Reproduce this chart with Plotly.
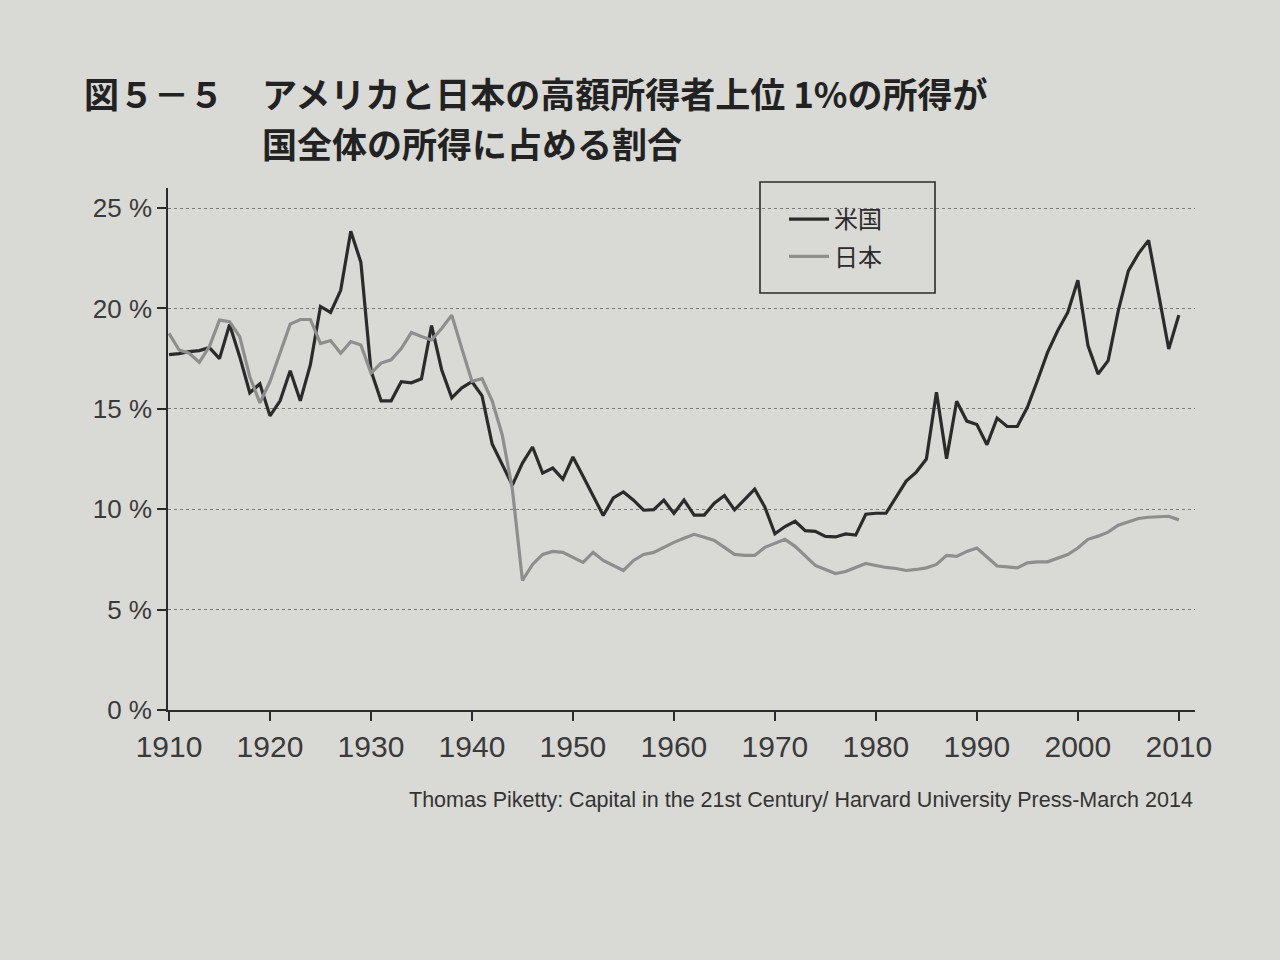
import plotly.graph_objects as go

years = list(range(1910, 2011))

us_share = [
    17.7, 17.75, 17.85, 17.9, 18.05, 17.5, 19.2, 17.6, 15.8, 16.25,
    14.65, 15.4, 16.9, 15.4, 17.2, 20.1, 19.8, 20.9, 23.85, 22.3,
    16.9, 15.4, 15.4, 16.35, 16.3, 16.5, 19.15, 16.95, 15.55, 16.05,
    16.35, 15.65, 13.25, 12.2, 11.2, 12.3, 13.1, 11.8, 12.05, 11.5,
    12.6, 11.64, 10.64, 9.69, 10.56, 10.86, 10.45, 9.95, 9.98, 10.45,
    9.79, 10.46, 9.71, 9.71, 10.3, 10.68, 9.97, 10.5, 11.0, 10.11,
    8.78, 9.14, 9.4, 8.93, 8.9, 8.65, 8.62, 8.77, 8.71, 9.75,
    9.8, 9.8, 10.6, 11.4, 11.85, 12.5, 15.83, 12.52, 15.38, 14.39,
    14.22, 13.21, 14.54, 14.12, 14.12, 15.08, 16.41, 17.81, 18.89, 19.8,
    21.41, 18.15, 16.74, 17.4, 19.88, 21.87, 22.73, 23.39, 20.71, 17.98,
    19.67,
]

japan_share = [
    18.76, 17.93, 17.77, 17.32, 18.1, 19.42, 19.34, 18.6, 16.6, 15.3,
    16.36, 17.85, 19.22, 19.45, 19.45, 18.25, 18.4, 17.77, 18.35, 18.18,
    16.78, 17.28, 17.44, 18.0, 18.8, 18.6, 18.43, 19.0, 19.67, 18.0,
    16.37, 16.5, 15.4, 13.7, 11.0, 6.45, 7.25, 7.75, 7.9, 7.85,
    7.6, 7.35, 7.85, 7.45, 7.2, 6.95, 7.45, 7.75, 7.85, 8.1,
    8.35, 8.55, 8.75, 8.6, 8.45, 8.1, 7.75, 7.7, 7.7, 8.1,
    8.3, 8.5, 8.15, 7.65, 7.2, 7.0, 6.8, 6.9, 7.1, 7.3,
    7.2, 7.1, 7.05, 6.95, 7.0, 7.08, 7.25, 7.7, 7.65, 7.9,
    8.07, 7.6, 7.17, 7.13, 7.08, 7.33, 7.38, 7.38, 7.58, 7.74,
    8.07, 8.5, 8.66, 8.86, 9.2, 9.35, 9.54, 9.6, 9.64, 9.65,
    9.47,
]

series_names = ["米国", "日本"]
x_ticks = [1910, 1920, 1930, 1940, 1950, 1960, 1970, 1980, 1990, 2000, 2010]
y_ticks = [0, 5, 10, 15, 20, 25]
y_tick_labels = [f"{v} %" for v in y_ticks]

title_prefix = "図５－５"
title_lines = ["アメリカと日本の高額所得者上位 1%の所得が", "国全体の所得に占める割合"]
source_text = "Thomas Piketty: Capital in the 21st Century/ Harvard University Press-March 2014"

PAPER = "#d9d9d5"
INK = "#2b2b2b"
GREY = "#8e8e8e"
NARROW = "Liberation Sans Narrow, Arial Narrow, Liberation Sans, sans-serif"
CJK = "Noto Sans CJK JP, Noto Sans CJK SC, sans-serif"

fig = go.Figure()
fig.add_trace(go.Scatter(x=years, y=us_share, mode="lines", name=series_names[0],
                         legendgroup="us",
                         line=dict(color=INK, width=3.2)))
fig.add_trace(go.Scatter(x=years, y=japan_share, mode="lines", name=series_names[1],
                         legendgroup="jp",
                         line=dict(color=GREY, width=3.2)))

# legend frame (drawn over gridlines)
fig.add_shape(type="rect", xref="paper", yref="paper",
              x0=(760 - 168) / 1027, x1=(935 - 168) / 1027,
              y0=1 - (293 - 188) / 522, y1=1 + (188 - 182) / 522,
              line=dict(color=INK, width=1.6), fillcolor=PAPER, layer="between")

fig.update_layout(
    width=1280, height=960,
    margin=dict(l=168, r=85, t=188, b=250),
    paper_bgcolor=PAPER, plot_bgcolor=PAPER,
    showlegend=True,
    legend=dict(x=(784 - 168) / 1027, y=1 + (188 - 197) / 522,
                xanchor="left", yanchor="top",
                bgcolor="rgba(0,0,0,0)", borderwidth=0,
                font=dict(family=CJK, size=24, color=INK),
                tracegroupgap=3, itemwidth=40),
    xaxis=dict(range=[1909.9, 2011.6], tickvals=x_ticks,
               showgrid=False, zeroline=False,
               showline=True, linecolor=INK, linewidth=1.6,
               ticks="outside", ticklen=9, tickwidth=1.5, tickcolor=INK,
               tickfont=dict(family=NARROW, size=30, color="#3a3a3a")),
    yaxis=dict(range=[0, 26], tickvals=y_ticks, ticktext=y_tick_labels,
               showgrid=True, gridcolor="#7a7a7a", gridwidth=1.3, griddash="dot",
               zeroline=False,
               showline=True, linecolor=INK, linewidth=1.6,
               ticks="outside", ticklen=9, tickwidth=1.5, tickcolor=INK,
               tickfont=dict(family=NARROW, size=26, color="#3a3a3a")),
)

fig.add_annotation(xref="paper", yref="paper", x=(82 - 168) / 1027, y=1 + (188 - 92) / 522,
                   xanchor="left", yanchor="middle", showarrow=False,
                   text="<b>" + title_prefix + "</b>",
                   font=dict(family=CJK, size=35, color="#222222"))
fig.add_annotation(xref="paper", yref="paper", x=(260 - 168) / 1027, y=1 + (188 - 92) / 522,
                   xanchor="left", yanchor="middle", showarrow=False,
                   text="<b>" + title_lines[0] + "</b>",
                   font=dict(family=CJK, size=35, color="#222222"))
fig.add_annotation(xref="paper", yref="paper", x=(260 - 168) / 1027, y=1 + (188 - 143) / 522,
                   xanchor="left", yanchor="middle", showarrow=False,
                   text="<b>" + title_lines[1] + "</b>",
                   font=dict(family=CJK, size=35, color="#222222"))
fig.add_annotation(xref="paper", yref="paper", x=1.0, y=-(800 - 710) / 522,
                   xanchor="right", yanchor="middle", showarrow=False,
                   text=source_text,
                   font=dict(family="Liberation Sans, Arial, sans-serif", size=21.5, color="#333333"))

fig.write_html("out.html",
               config={"displayModeBar": False},
               post_script="document.body.style.margin='0';"
                           "document.body.style.background='" + PAPER + "';")
